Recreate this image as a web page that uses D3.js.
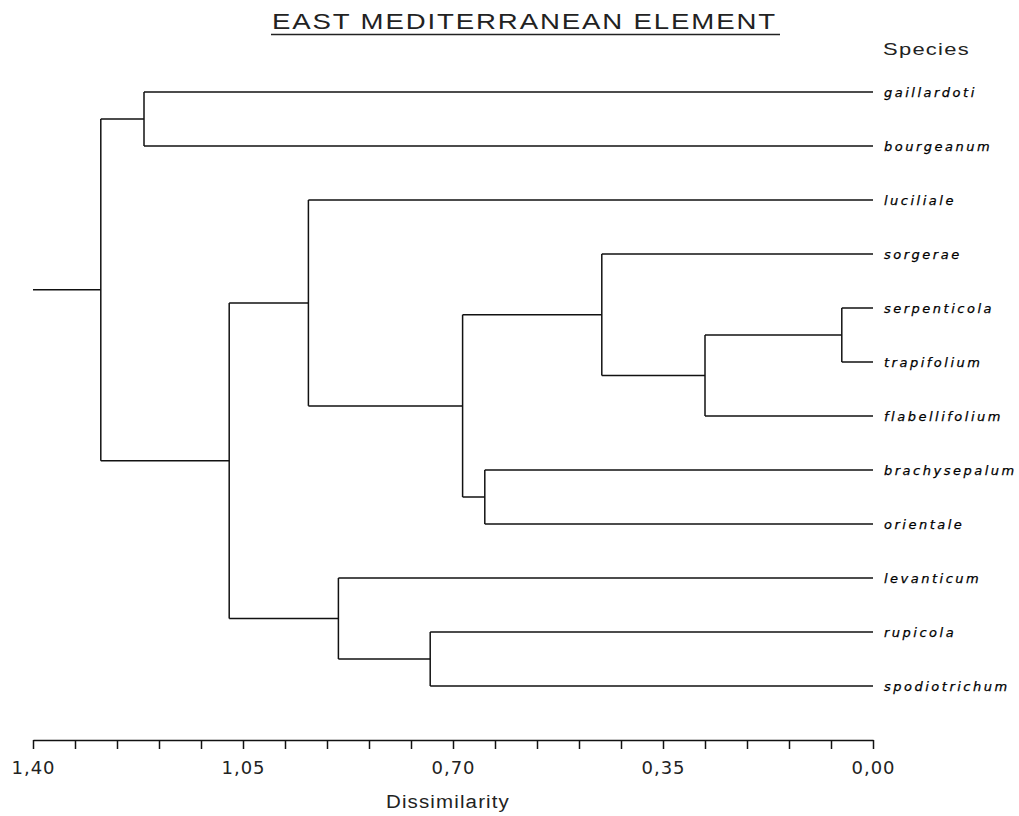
<!DOCTYPE html>
<html>
<head>
<meta charset="utf-8">
<script src="https://cdn.jsdelivr.net/npm/d3@7"></script>
<style>
  html, body { margin: 0; padding: 0; background: #fff; }
  svg { display: block; }
</style>
</head>
<body>
<svg id="chart" width="1019" height="816"></svg>
<script>
// ---- data ----
const species = ["gaillardoti","bourgeanum","luciliale","sorgerae","serpenticola","trapifolium",
                 "flabellifolium","brachysepalum","orientale","levanticum","rupicola","spodiotrichum"];
// agglomeration steps (children are species names or earlier node ids)
const mergeId     = ["n0","n1","n2","n3","n4","n5","n6","n7","n8","n9","n10"];
const mergeLeft   = ["gaillardoti","serpenticola","n1","sorgerae","brachysepalum","n3","luciliale","rupicola","levanticum","n6","n0"];
const mergeRight  = ["bourgeanum","trapifolium","flabellifolium","n2","orientale","n4","n5","spodiotrichum","n7","n8","n9"];
const mergeHeight = [1.215, 0.052, 0.280, 0.452, 0.647, 0.684, 0.941, 0.738, 0.891, 1.073, 1.287];
const rootHeight = 1.40;
const axisTicks = [1.40,1.33,1.26,1.19,1.12,1.05,0.98,0.91,0.84,0.77,0.70,0.63,0.56,0.49,0.42,0.35,0.28,0.21,0.14,0.07,0.00];
const axisLabels = [1.40,1.05,0.70,0.35,0.00];
const title = "EAST MEDITERRANEAN ELEMENT";
const axisTitle = "Dissimilarity";
const leafHeader = "Species";
</script>
<script>
const children = {}, heightOf = {};
mergeId.forEach((id, i) => { children[id] = [mergeLeft[i], mergeRight[i]]; heightOf[id] = mergeHeight[i]; });

function build(id) {
  if (species.includes(id)) return { name: id, height: 0 };
  return { name: id, height: heightOf[id], children: children[id].map(build) };
}
const root = d3.hierarchy(build(mergeId[mergeId.length - 1]));

const svg = d3.select("#chart");
const x = d3.scaleLinear().domain([1.40, 0]).range([33, 873]);
const yLeaf = d3.scalePoint().domain(species).range([92, 686]);

root.eachAfter(n => {
  n.px = x(n.data.height);
  n.py = n.children ? d3.mean(n.children, c => c.py) : yLeaf(n.data.name);
});

const g = svg.append("g").attr("fill", "none").attr("stroke", "#111").attr("stroke-width", 1.5);
root.each(n => {
  if (n.children) {
    const ys = n.children.map(c => c.py);
    g.append("line").attr("x1", n.px).attr("x2", n.px)
      .attr("y1", d3.min(ys)).attr("y2", d3.max(ys));
    n.children.forEach(c => {
      g.append("line").attr("x1", n.px).attr("x2", c.px).attr("y1", c.py).attr("y2", c.py);
    });
  }
});
g.append("line").attr("x1", x(rootHeight)).attr("x2", root.px).attr("y1", root.py).attr("y2", root.py);

// leaf labels
svg.append("g").selectAll("text").data(root.leaves()).join("text")
  .attr("x", 884).attr("y", d => d.py).attr("dy", "0.36em")
  .attr("font-family", "DejaVu Sans").attr("font-style", "italic")
  .attr("font-size", 13).attr("letter-spacing", 2.5).attr("fill", "#000")
  .attr("stroke", "#000").attr("stroke-width", 0.25)
  .text(d => d.data.name);

// axis
const fmt = v => d3.format(".2f")(v).replace(".", ",");
const axis = d3.axisBottom(x).tickValues(axisTicks).tickSize(9).tickSizeOuter(0).tickPadding(12)
  .tickFormat(v => axisLabels.some(l => Math.abs(l - v) < 1e-9) ? fmt(v) : "");
const ax = svg.append("g").attr("transform", "translate(0,740)").call(axis);
ax.selectAll("path, line").attr("stroke", "#111").attr("stroke-width", 1.5);
ax.selectAll("text").attr("font-family", "DejaVu Sans").attr("font-size", 18)
  .attr("letter-spacing", 1).attr("fill", "#222");

svg.append("text").attr("x", 386).attr("y", 808).attr("textLength", 124).attr("lengthAdjust", "spacingAndGlyphs")
  .attr("font-family", "Liberation Sans, Arial").attr("font-size", 18).attr("letter-spacing", 1)
  .attr("fill", "#222").text(axisTitle);

// title
svg.append("text").attr("x", 272).attr("y", 29).attr("textLength", 505).attr("lengthAdjust", "spacingAndGlyphs")
  .attr("font-family", "Liberation Sans, Arial").attr("font-size", 22).attr("letter-spacing", 1.5)
  .attr("fill", "#222").text(title);
svg.append("line").attr("x1", 271).attr("x2", 780).attr("y1", 34.5).attr("y2", 34.5)
  .attr("stroke", "#222").attr("stroke-width", 1.5);

svg.append("text").attr("x", 883).attr("y", 55).attr("textLength", 87).attr("lengthAdjust", "spacingAndGlyphs")
  .attr("font-family", "Liberation Sans, Arial").attr("font-size", 17).attr("letter-spacing", 1)
  .attr("fill", "#222").text(leafHeader);
</script>
</body>
</html>
